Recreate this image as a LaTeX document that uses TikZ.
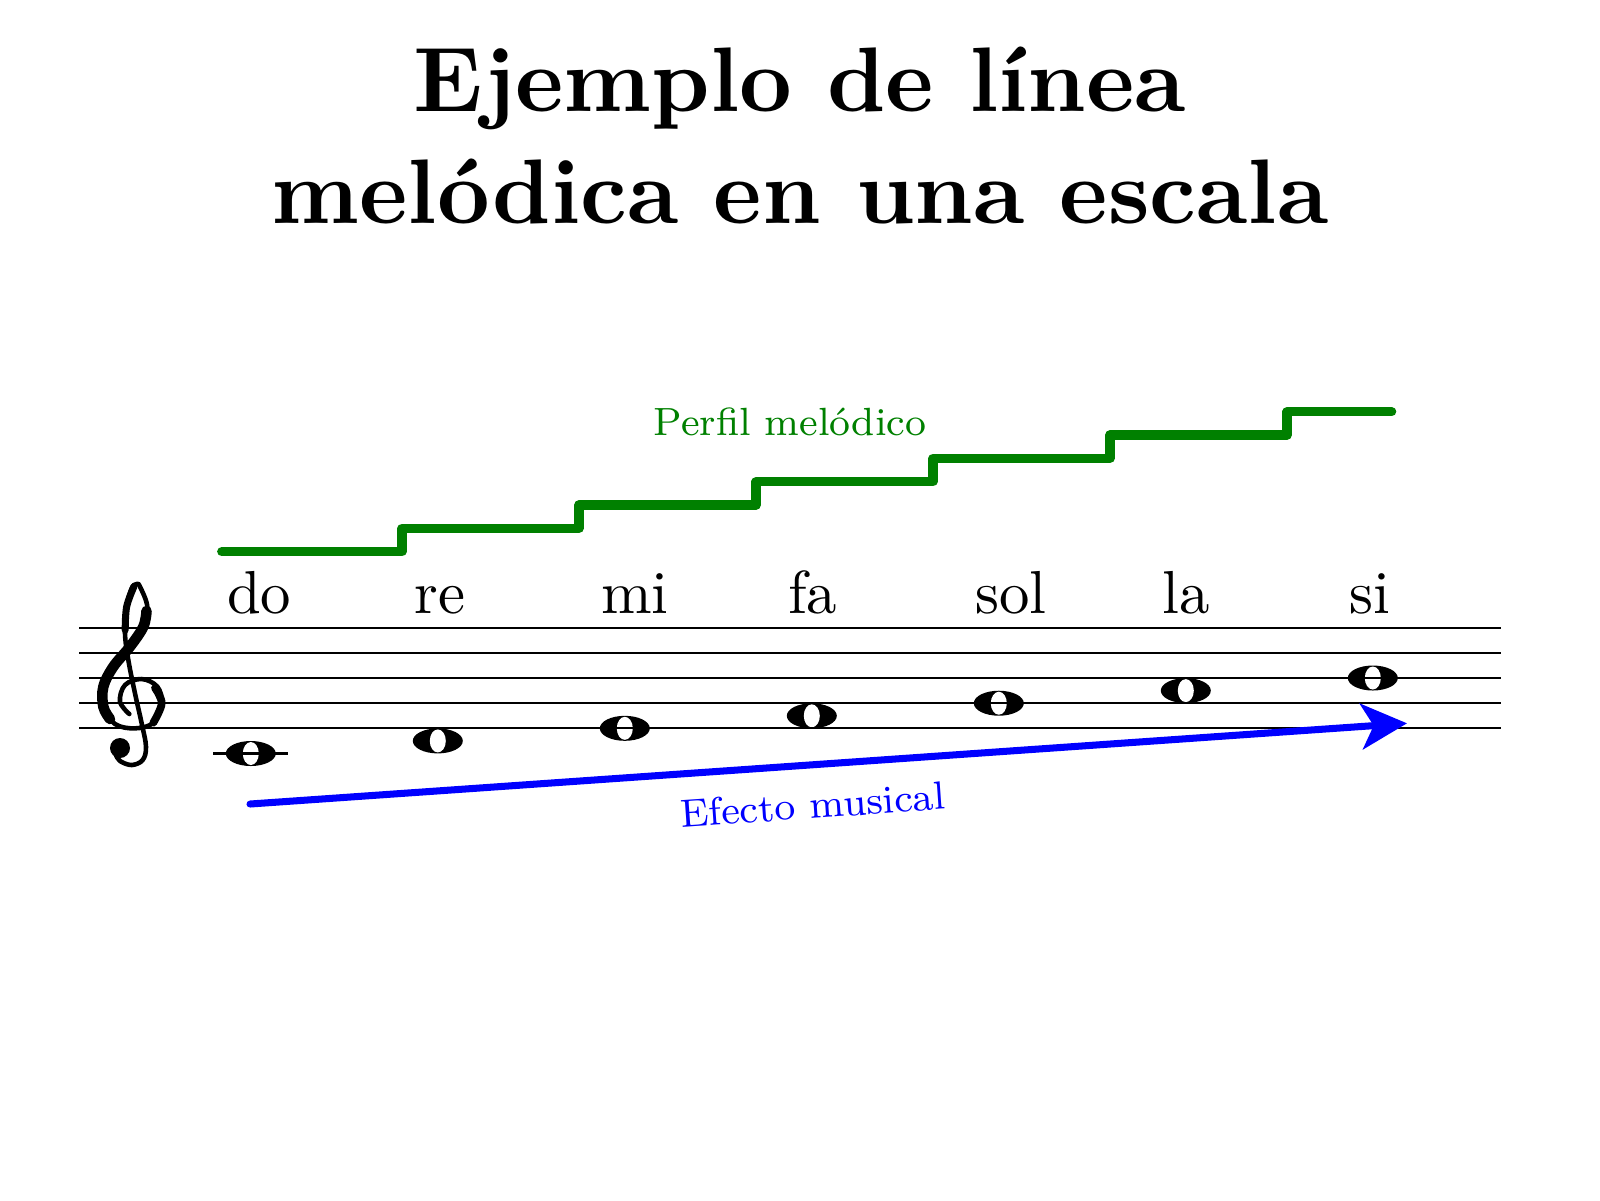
\documentclass[tikz,border=0pt]{standalone}
\usepackage{fontspec}
\newfontfamily\titlefont{lmroman10-bold.otf}
\newfontfamily\labelfont{lmroman10-regular.otf}
\newfontfamily\smalltextfont{lmroman8-regular.otf}
\usetikzlibrary{shapes.geometric,arrows.meta}
\definecolor{melgreen}{RGB}{0,128,0}
\tikzset{
  staffline/.style={line width=0.6pt, black},
  ledger/.style={line width=1.1pt, black},
  notehead/.style={ellipse, fill=black, minimum width=0.5cm, minimum height=0.25cm, inner sep=0pt,
    path picture={\fill[white, shift={(path picture bounding box.center)}, rotate=-20] (0,0) ellipse [x radius=0.08cm, y radius=0.115cm];}},
  notename/.style={anchor=base west, inner sep=0pt, font=\labelfont\fontsize{17.28}{20}\selectfont},
  titletext/.style={anchor=base, font=\titlefont\fontsize{26.1}{31}\selectfont},
  melody/.style={melgreen, line width=2.6pt, line cap=round, line join=round},
  effect/.style={blue, line width=2pt, line cap=round, -{Stealth[length=13pt, width=13pt, inset=3.5pt]}},
  smalllabel/.style={font=\smalltextfont\fontsize{11.2}{13}\selectfont},
  clefthin/.style={line width=1.3pt, line cap=round, line join=round},
}
\begin{document}
\begin{tikzpicture}[x=1cm,y=1cm]
\useasboundingbox (0,0) rectangle (16,-12);
% title
\node[titletext] (title1) at (8.0,-1.117) {Ejemplo de línea};
\node[titletext] (title2) at (8.0,-2.23) {melódica en una escala};
% notes
\node[notehead] (n1) at (2.508,-7.535) {};
\node[notehead] (n2) at (4.378,-7.409) {};
\node[notehead] (n3) at (6.248,-7.283) {};
\node[notehead] (n4) at (8.118,-7.158) {};
\node[notehead] (n5) at (9.988,-7.032) {};
\node[notehead] (n6) at (11.858,-6.906) {};
\node[notehead] (n7) at (13.728,-6.780) {};
% staff
\foreach \i in {0,...,4} {
  \draw[staffline] (0.793,{-6.277-0.2515*\i}) -- (15.007,{-6.277-0.2515*\i});
}
\draw[ledger] (2.13,-7.535) -- (2.88,-7.535);
% treble clef (drawn)
\draw[clefthin] plot[smooth, tension=0.6] coordinates {
  (1.2933,-7.140) (1.200,-7.0167) (1.250,-6.850) (1.4167,-6.790) (1.5733,-6.8667)
  (1.6167,-7.0333) (1.5333,-7.2267) (1.350,-7.2833) (1.150,-7.240) (1.0333,-7.0667)
  (1.0333,-6.8667) (1.1333,-6.6667) (1.300,-6.4667) (1.4333,-6.2667) (1.4733,-6.0667)
  (1.400,-5.8667) (1.3667,-5.840) (1.3167,-5.8833) (1.2667,-6.0667) (1.250,-6.3333)
  (1.2833,-6.600) (1.350,-6.9333) (1.4167,-7.2333) (1.460,-7.4667) (1.4267,-7.600)
  (1.3167,-7.650) (1.200,-7.61) (1.16,-7.55)};
\draw[line width=3pt, line cap=round] plot[smooth, tension=0.6] coordinates {
  (1.465,-6.11) (1.4333,-6.2667) (1.300,-6.4667) (1.1333,-6.6667) (1.0333,-6.8667) (1.0333,-7.0667) (1.10,-7.19)};
\draw[line width=2.2pt, line cap=round] plot[smooth, tension=0.6] coordinates {
  (1.55,-6.88) (1.6167,-7.0333) (1.5333,-7.2267)};
\draw[line width=2pt, line cap=round] plot[smooth, tension=0.6] coordinates {
  (1.34,-5.865) (1.2667,-6.0667) (1.252,-6.30)};
\fill (1.20,-7.48) circle [radius=0.10];
% note names
\node[notename] (l1) at (2.265,-6.133) {do};
\node[notename] (l2) at (4.135,-6.133) {re};
\node[notename] (l3) at (6.005,-6.133) {mi};
\node[notename] (l4) at (7.875,-6.133) {fa};
\node[notename] (l5) at (9.745,-6.133) {sol};
\node[notename] (l6) at (11.615,-6.133) {la};
\node[notename] (l7) at (13.485,-6.133) {si};
% melodic profile
\draw[melody] (2.217,-5.517) -- (4.02,-5.517) -- (4.02,-5.283) -- (5.79,-5.283) -- (5.79,-5.05)
  -- (7.56,-5.05) -- (7.56,-4.817) -- (9.33,-4.817) -- (9.33,-4.583) -- (11.10,-4.583)
  -- (11.10,-4.35) -- (12.87,-4.35) -- (12.87,-4.117) -- (13.917,-4.117);
\node[smalllabel, melgreen, anchor=base] (perfil) at (7.90,-4.35) {Perfil melódico};
% effect arrow
\coordinate (a0) at (2.50,-8.04);
\coordinate (a1) at (14.07,-7.233);
\draw[effect] (a0) -- (a1) node[pos=0.484, below=3pt, sloped, smalllabel, blue] (efecto) {Efecto musical};
\end{tikzpicture}
\end{document}
